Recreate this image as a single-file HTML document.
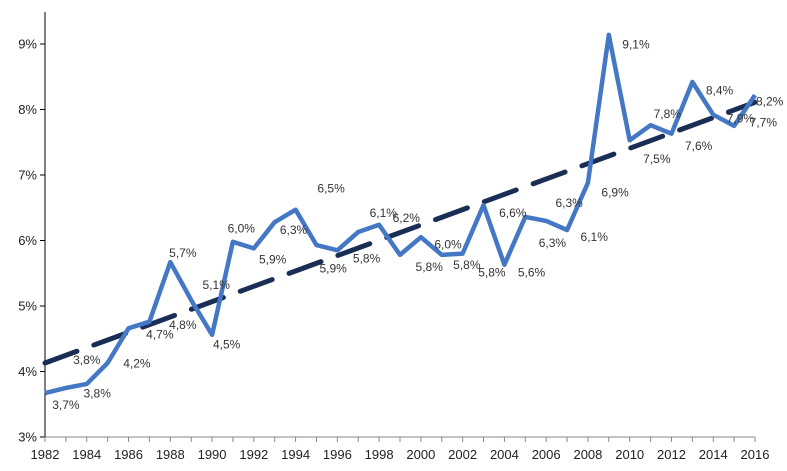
<!DOCTYPE html>
<html><head><meta charset="utf-8">
<style>
html,body{margin:0;padding:0;background:#fff;}
svg{display:block;font-family:"Liberation Sans",sans-serif;}
</style></head>
<body>
<svg id="chart" width="787" height="471" viewBox="0 0 787 471" xmlns="http://www.w3.org/2000/svg">
<g id="axes"></g>
<g id="trend"></g>
<g id="series"></g>
<g id="labels"></g>
</svg>
<script>
const years = [1982,1983,1984,1985,1986,1987,1988,1989,1990,1991,1992,1993,1994,1995,1996,1997,1998,1999,2000,2001,2002,2003,2004,2005,2006,2007,2008,2009,2010,2011,2012,2013,2014,2015,2016];
const values = [3.67,3.75,3.81,4.13,4.66,4.76,5.67,5.09,4.56,5.98,5.88,6.28,6.47,5.93,5.85,6.13,6.24,5.78,6.05,5.78,5.8,6.54,5.63,6.36,6.3,6.16,6.88,9.14,7.53,7.76,7.63,8.42,7.92,7.75,8.22];
const trendYears = [1982,2016];
const trendValues = [4.13,8.11];
const yTicks = [3,4,5,6,7,8,9];
const yTickLabels = ["3%","4%","5%","6%","7%","8%","9%"];
const xTickLabels = ["1982","1984","1986","1988","1990","1992","1994","1996","1998","2000","2002","2004","2006","2008","2010","2012","2014","2016"];
const labelTexts = ["3,7%","3,8%","3,8%","4,2%","4,7%","4,8%","5,7%","5,1%","4,5%","6,0%","5,9%","6,3%","6,5%","5,9%","6,1%","5,8%","6,2%","6,0%","5,8%","5,8%","5,8%","6,6%","5,6%","6,3%","6,3%","6,1%","6,9%","9,1%","7,8%","7,5%","8,4%","7,6%","8,2%","7,9%","7,7%"];
const labelYears = [1983,1984,1984.5,1986.4,1987.5,1988.6,1988.6,1990.2,1990.7,1991.4,1992.9,1993.9,1995.7,1995.8,1998.2,1997.4,1999.3,2001.3,2000.4,2002.2,2003.4,2004.4,2005.3,2006.3,2007.1,2008.3,2009.3,2010.3,2011.8,2011.3,2014.3,2013.3,2016.7,2015.3,2016.4];
const labelValues = [3.5,4.18,3.67,4.13,4.57,4.72,5.82,5.33,4.42,6.19,5.72,6.17,6.8,5.58,6.43,5.73,6.35,5.95,5.6,5.63,5.52,6.43,5.52,5.97,6.58,6.06,6.74,9.0,7.94,7.25,8.3,7.45,8.13,7.87,7.81];

const X0=45,X1=755,Y0=437,YPER=65.5;
const xs=y=>X0+(y-1982)*(X1-X0)/34;
const ys=v=>Y0-(v-3)*YPER;
const NS="http://www.w3.org/2000/svg";
function mk(tag,attrs,parent){const e=document.createElementNS(NS,tag);for(const k in attrs)e.setAttribute(k,attrs[k]);parent.appendChild(e);return e;}

const axes=document.getElementById('axes');
let l=mk('line',{x1:X0,y1:12,x2:X0,y2:Y0,stroke:'#000','stroke-width':1},axes);


l=mk('line',{x1:X0,y1:Y0,x2:X1,y2:Y0,stroke:'#888','stroke-width':1},axes);


yTicks.forEach((v,i)=>{
  mk('line',{x1:X0-5,y1:ys(v),x2:X0,y2:ys(v),stroke:'#000'},axes);
  const t=mk('text',{x:X0-8,y:ys(v)+4.5,'text-anchor':'end','font-size':13,fill:'#222'},axes);
  t.textContent=yTickLabels[i];
  
  
});
years.forEach(y=>{mk('line',{x1:xs(y),y1:Y0,x2:xs(y),y2:Y0+5,stroke:'#888'},axes);});
xTickLabels.forEach(s=>{
  const t=mk('text',{x:xs(+s),y:Y0+22,'text-anchor':'middle','font-size':13,fill:'#222'},axes);
  t.textContent=s;
  
  
});

const tr=mk('line',{x1:xs(trendYears[0]),y1:ys(trendValues[0]),x2:xs(trendYears[1]),y2:ys(trendValues[1]),stroke:'#1a2e55','stroke-width':5,'stroke-dasharray':'34,18','stroke-linecap':'round'},document.getElementById('trend'));



const pts=years.map((y,i)=>xs(y).toFixed(1)+','+ys(values[i]).toFixed(1)).join(' ');
const pl=mk('polyline',{points:pts,fill:'none',stroke:'#4477c4','stroke-width':4.5,'stroke-linejoin':'round'},document.getElementById('series'));



const lg=document.getElementById('labels');
labelTexts.forEach((s,i)=>{
  const t=mk('text',{x:xs(labelYears[i]),y:ys(labelValues[i])+4.5,'text-anchor':'middle','font-size':12,fill:'#333'},lg);
  t.textContent=s;
  
  
});
</script>
</body></html>
